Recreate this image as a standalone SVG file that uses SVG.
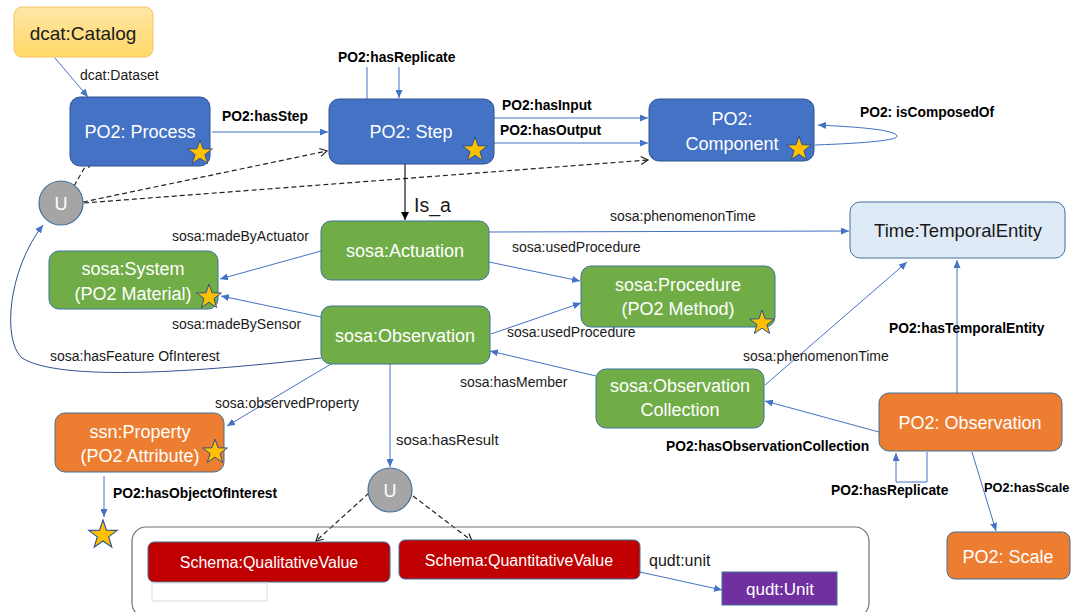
<svg xmlns="http://www.w3.org/2000/svg" xmlns:xlink="http://www.w3.org/1999/xlink" width="1074" height="612" viewBox="0 0 1074 612">
<defs>
<style>
.nt{font-family:"Liberation Sans",Arial,sans-serif;font-size:18px;fill:#fff;text-anchor:middle}
.dk{fill:#1a1a1a}
.lb{font-family:"Liberation Sans",Arial,sans-serif;font-size:14px;fill:#1a1a1a}
.bl{font-family:"Liberation Sans",Arial,sans-serif;font-size:13.8px;font-weight:bold;fill:#000}
.blue{fill:#4472C4;stroke:#2F528F;stroke-width:1}
.green{fill:#70AD47;stroke:#41719C;stroke-width:1}
.orange{fill:#ED7D31;stroke:#41719C;stroke-width:1}
.red{fill:#C00000;stroke:#41719C;stroke-width:1}
.ucirc{fill:#A5A5A5;stroke:#41719C;stroke-width:1.2}
.c{fill:none;stroke:#4472C4;stroke-width:1;marker-end:url(#ah)}
.cn{fill:none;stroke:#4472C4;stroke-width:1}
.d{fill:none;stroke:#222;stroke-width:1.2;stroke-dasharray:5,3;marker-end:url(#oh)}
</style>
<marker id="ah" markerWidth="8" markerHeight="7" refX="8" refY="3.5" orient="auto" markerUnits="userSpaceOnUse"><path d="M0,0 L8,3.5 L0,7 z" fill="#4472C4"/></marker>
<marker id="bh" markerWidth="8" markerHeight="8" refX="8" refY="4" orient="auto" markerUnits="userSpaceOnUse"><path d="M0,0 L8,4 L0,8 z" fill="#000"/></marker>
<marker id="oh" markerWidth="9" markerHeight="10" refX="8" refY="5" orient="auto" markerUnits="userSpaceOnUse"><path d="M1,1 L8,5 L1,9" fill="none" stroke="#222" stroke-width="1.2"/></marker>
<linearGradient id="cat" x1="0" y1="0" x2="0" y2="1"><stop offset="0" stop-color="#FFE7A6"/><stop offset="1" stop-color="#FFD866"/></linearGradient>
<polygon id="star" points="0,-13 3.06,-4.21 12.36,-4.02 4.95,1.61 7.64,10.52 0,5.2 -7.64,10.52 -4.95,1.61 -12.36,-4.02 -3.06,-4.21" fill="#FFC000" stroke="#2F528F" stroke-width="1"/>
</defs>
<rect width="1074" height="612" fill="#fff"/>

<g id="connectors">
<path class="c" d="M55,58 L88,97"/>
<path class="c" d="M212,132 L328,132"/>
<path class="cn" d="M367,99 V67"/>
<path class="c" d="M399,67 V98"/>
<path class="c" d="M494,118 H648"/>
<path class="c" d="M494,143 H648"/>
<path class="c" d="M815,145 C870,143 898,140 897,136 C896,130 860,127 818,125"/>
<path class="d" d="M74,186 L89,160"/>
<path class="d" d="M83,202 L327,151"/>
<path class="d" d="M84,203 L648,160"/>
<path d="M405,164 V220" fill="none" stroke="#000" stroke-width="1.1" marker-end="url(#bh)"/>
<path class="c" d="M489,232 L849,231"/>
<path class="c" d="M321,251 L220,279"/>
<path class="c" d="M321,317 L221,296"/>
<path class="c" d="M489,262 L580,281"/>
<path class="c" d="M491,334 L581,303"/>
<path class="c" style="stroke:#2F528F" d="M321,358 C200,372 60,382 22,358 C2,340 8,270 43,225"/>
<path class="c" d="M596,376 L490,351"/>
<path class="c" d="M765,385 L907,262"/>
<path class="c" d="M957,393 V260"/>
<path class="c" d="M879,432 L765,401"/>
<path class="c" d="M927,452 V482 H896 V453"/>
<path class="c" d="M972,452 L996,531"/>
<path class="c" d="M331,364 L227,426"/>
<path class="c" d="M390,364 V467"/>
<path class="c" d="M104,476 V517"/>
<path class="d" d="M369,493 L316,541"/>
<path class="d" d="M413,496 L472,541"/>
<path class="c" d="M640,572 L722,590"/>
</g>

<g id="labels">
<text class="lb" x="80" y="80">dcat:Dataset</text>
<text class="bl" x="222" y="121">PO2:hasStep</text>
<text class="bl" x="338" y="62">PO2:hasReplicate</text>
<text class="bl" x="502" y="110">PO2:hasInput</text>
<text class="bl" x="500" y="135">PO2:hasOutput</text>
<text class="bl" x="860" y="117">PO2: isComposedOf</text>
<text x="414" y="212" font-family="Liberation Sans, Arial, sans-serif" font-size="19.5" fill="#1a1a1a">Is_a</text>
<text class="lb" x="610" y="221">sosa:phenomenonTime</text>
<text class="lb" x="172" y="241">sosa:madeByActuator</text>
<text class="lb" x="512" y="252">sosa:usedProcedure</text>
<text class="lb" x="172" y="329">sosa:madeBySensor</text>
<text class="lb" x="507" y="337">sosa:usedProcedure</text>
<text class="lb" x="50" y="361">sosa:hasFeature OfInterest</text>
<text class="lb" x="460" y="387">sosa:hasMember</text>
<text class="lb" x="743" y="361">sosa:phenomenonTime</text>
<text class="bl" x="889" y="333">PO2:hasTemporalEntity</text>
<text class="lb" x="215" y="408">sosa:observedProperty</text>
<text class="lb" x="396" y="445" style="font-size:15px">sosa:hasResult</text>
<text class="bl" x="113" y="498">PO2:hasObjectOfInterest</text>
<text class="bl" x="666" y="451">PO2:hasObservationCollection</text>
<text class="bl" x="831" y="495">PO2:hasReplicate</text>
<text class="bl" x="984" y="492" style="font-size:12.8px">PO2:hasScale</text>
<text class="lb" x="649" y="566" style="font-size:16px">qudt:unit</text>
</g>

<g id="catalog"><rect x="14" y="7" width="139" height="50" rx="8" fill="url(#cat)" stroke="#F4C469"/><text class="nt dk" x="83" y="40" style="font-size:19px">dcat:Catalog</text></g>
<g id="process"><rect class="blue" x="70" y="97" width="140" height="69" rx="10"/><text class="nt" x="140" y="138">PO2: Process</text><use href="#star" x="200" y="153"/></g>
<g id="step"><rect class="blue" x="329" y="99" width="165" height="65" rx="10"/><text class="nt" x="411" y="138">PO2: Step</text><use href="#star" x="475" y="150"/></g>
<g id="component"><rect class="blue" x="649" y="99" width="165" height="62" rx="10"/><text class="nt" x="732" y="125">PO2:</text><text class="nt" x="732" y="150">Component</text><use href="#star" x="799" y="149"/></g>
<g id="union1"><circle class="ucirc" cx="61" cy="203" r="22"/><text class="nt" x="61" y="210">U</text></g>
<g id="actuation"><rect class="green" x="321" y="221" width="168" height="59" rx="10"/><text class="nt" x="405" y="257">sosa:Actuation</text></g>
<g id="observation"><rect class="green" x="321" y="306" width="169" height="58" rx="10"/><text class="nt" x="405" y="342">sosa:Observation</text></g>
<g id="system"><rect class="green" x="49" y="251" width="169" height="58" rx="10"/><text class="nt" x="133" y="275">sosa:System</text><text class="nt" x="133" y="300">(PO2 Material)</text><use href="#star" x="209" y="297"/></g>
<g id="procedure"><rect class="green" x="581" y="266" width="194" height="61" rx="10"/><text class="nt" x="678" y="291">sosa:Procedure</text><text class="nt" x="678" y="315">(PO2 Method)</text><use href="#star" x="762" y="323"/></g>
<g id="temporal"><rect x="850" y="202" width="215" height="56" rx="10" fill="#DEEBF7" stroke="#41719C"/><text class="nt dk" x="958" y="237" style="font-size:18.5px">Time:TemporalEntity</text></g>
<g id="collection"><rect class="green" x="596" y="369" width="168" height="59" rx="10"/><text class="nt" x="680" y="392">sosa:Observation</text><text class="nt" x="680" y="416">Collection</text></g>
<g id="po2observation"><rect class="orange" x="879" y="393" width="183" height="58" rx="10"/><text class="nt" x="970" y="429">PO2: Observation</text></g>
<g id="scale"><rect class="orange" x="947" y="532" width="123" height="47" rx="8"/><text class="nt" x="1008" y="563">PO2: Scale</text></g>
<g id="property"><rect class="orange" x="55" y="413" width="169" height="59" rx="10"/><text class="nt" x="140" y="438">ssn:Property</text><text class="nt" x="140" y="462">(PO2 Attribute)</text><use href="#star" x="215" y="452"/></g>
<g id="objectstar"><use href="#star" transform="translate(103,535) scale(1.15)"/></g>
<g id="union2"><circle class="ucirc" cx="390" cy="490" r="22"/><text class="nt" x="390" y="497">U</text></g>
<g id="valuegroup"><rect x="132" y="527" width="737" height="90" rx="14" fill="none" stroke="#6F6F6F" stroke-width="1.2"/></g>
<g id="qualitative"><rect class="red" x="148" y="542" width="242" height="40" rx="6"/><text class="nt" x="269" y="568" style="font-size:16px">Schema:QualitativeValue</text><rect x="152" y="583" width="115" height="18" fill="#fff" stroke="#D9D9D9"/></g>
<g id="quantitative"><rect class="red" x="399" y="540" width="241" height="39" rx="6"/><text class="nt" x="519" y="566" style="font-size:16px">Schema:QuantitativeValue</text></g>
<g id="unit"><rect x="722" y="572" width="115" height="33" fill="#7030A0" stroke="#41719C"/><text class="nt" x="780" y="595" style="font-size:17px">qudt:Unit</text></g>
</svg>
